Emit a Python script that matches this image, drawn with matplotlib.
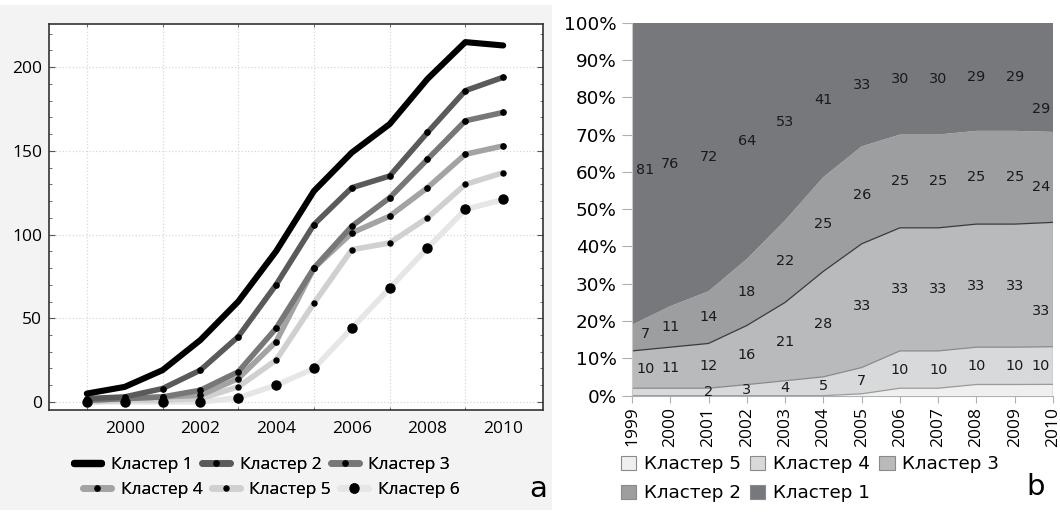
import matplotlib
matplotlib.use("Agg")
import matplotlib.pyplot as plt
from matplotlib import font_manager
from matplotlib.lines import Line2D
from matplotlib.patches import Rectangle, Patch
import numpy as np

# ---------------- data ----------------
years = [1999, 2000, 2001, 2002, 2003, 2004, 2005, 2006, 2007, 2008, 2009, 2010]

# panel a: cluster sizes
c1 = [5, 9, 19, 37, 60, 90, 126, 149, 166, 193, 215, 213]
c2 = [2, 3, 8, 19, 39, 70, 106, 128, 135, 161, 186, 194]
c3 = [1, 2, 3, 7, 18, 44, 80, 105, 122, 145, 168, 173]
c4 = [1, 2, 3, 4, 14, 36, 80, 101, 111, 128, 148, 153]
c5 = [0, 1, 1, 2, 9, 25, 59, 91, 95, 110, 130, 137]
c6 = [0, 0, 0, 0, 2.5, 10, 20, 44, 68, 92, 115, 121]
line_names = ["Кластер 1", "Кластер 2", "Кластер 3", "Кластер 4", "Кластер 5", "Кластер 6"]

# panel b: shares, %
s5 = [0, 0, 0, 0, 0, 0, 0.5, 2, 2, 3, 3, 3]
s4 = [2, 2, 2, 3, 4, 5, 7, 10, 10, 10, 10, 10]
s3 = [10, 11, 12, 16, 21, 28, 33, 33, 33, 33, 33, 33]
s2 = [7, 11, 14, 18, 22, 25, 26, 25, 25, 25, 25, 24]
s1 = [81, 76, 72, 64, 53, 41, 33, 30, 30, 29, 29, 29]
area_names = ["Кластер 5", "Кластер 4", "Кластер 3", "Кластер 2", "Кластер 1"]

# ---------------- fonts ----------------
NF = dict(family=["Open Sans", "DejaVu Sans"])
WF = dict(family=["DejaVu Sans"])

fig = plt.figure(figsize=(10.6, 5.13), dpi=100)
fig.patch.set_facecolor("white")
fig.add_artist(Rectangle((0, 0.006), 0.521, 0.984, transform=fig.transFigure,
                         facecolor="#f3f3f3", edgecolor="none", zorder=-10))

# ---------------- panel a ----------------
ax = fig.add_axes([0.0462, 0.2008, 0.466, 0.752])
ax.set_facecolor("white")
series = [c1, c2, c3, c4, c5, c6]
colors = ["#000000", "#5a5a5a", "#777777", "#a3a3a3", "#d0d0d0", "#e6e6e6"]
lws = [4.4, 4.0, 4.0, 4.0, 4.0, 4.0]
msz = [0, 3.8, 3.8, 3.8, 3.6, 6.5]
for i in range(5, -1, -1):
    ax.plot(years, series[i], color=colors[i], lw=lws[i], solid_capstyle="round",
            zorder=2 + (5 - i))
    if msz[i] > 0:
        ax.plot(years, series[i], ls="none", marker="o", ms=msz[i], color="black",
                zorder=10)
handles = [Line2D([0], [0], color=colors[i], lw=lws[i] + 0.8,
                  solid_capstyle="round",
                  marker="o" if msz[i] else None, ms=msz[i],
                  markerfacecolor="black", markeredgecolor="black") for i in range(6)]
ax.set_xlim(1998, 2011.05)
ax.set_ylim(-4.8, 225.7)
ax.set_xticks(years, minor=True)
ax.set_xticks(years[1::2])
ax.set_yticks([0, 50, 100, 150, 200])
ax.set_yticks(np.arange(0, 230, 10), minor=True)
ax.grid(True, which="major", axis="y", color="#d8d8d8", ls=":", lw=0.9)
ax.grid(True, which="minor", axis="x", color="#d8d8d8", ls=":", lw=0.9)
ax.tick_params(which="both", direction="in", top=True, right=True, color="#555555")
ax.tick_params(which="major", length=4, pad=5)
ax.tick_params(which="minor", length=2.5)
ax.tick_params(axis="x", which="major", length=0, pad=8)
for lab in ax.get_xticklabels() + ax.get_yticklabels():
    lab.set_fontproperties(font_manager.FontProperties(**NF, size=12.5))
for sp in ax.spines.values():
    sp.set_color("#333333")
    sp.set_linewidth(1.2)

legprop = font_manager.FontProperties(**NF, size=12.5)
for row, (cx, cy) in enumerate([(0.2470, 0.0936), (0.2560, 0.0450)]):
    idx = range(row * 3, row * 3 + 3)
    lg = fig.legend([handles[i] for i in idx], [line_names[i] for i in idx],
                    loc="center", bbox_to_anchor=(cx, cy), ncol=3, frameon=False,
                    handlelength=1.6, handletextpad=0.55, columnspacing=0.55,
                    borderpad=0, prop=legprop)
    fig.add_artist(lg)
fig.text(0.508, 0.047, "a", fontsize=21, **WF, ha="center", va="center")

# ---------------- panel b ----------------
bx = fig.add_axes([0.5962, 0.2287, 0.3972, 0.7271])
shares = np.array([s5, s4, s3, s2, s1], dtype=float)
tot = shares.sum(axis=0)
pct = shares / tot * 100
fills = ["#efefef", "#d8d9da", "#b8babb", "#9c9ea0", "#76787b"]
bx.stackplot(years, pct, colors=fills, edgecolor="none", linewidth=0)
cum = np.cumsum(pct, axis=0)
edge_cols = ["#9a9a9a", "#8a8a8a", "#3a3a3a", None, None]
for k in range(5):
    if edge_cols[k]:
        bx.plot(years, cum[k], color=edge_cols[k], lw=0.9)
bx.plot([years[-1], years[-1]], [0, cum[-2][-1]], color="#8a8a8a", lw=0.9)
bx.set_xlim(years[0], years[-1])
bx.set_ylim(0, 100)
bx.set_yticks(np.arange(0, 101, 10))
bx.set_yticklabels([f"{v}%" for v in range(0, 101, 10)])
bx.set_xticks(years)
bx.set_xticklabels([str(y) for y in years], rotation=90)
bx.tick_params(axis="y", length=7, color="#b0b0b0", pad=4)
bx.tick_params(axis="x", length=5, color="#b0b0b0", pad=3)
for lab in bx.get_yticklabels():
    lab.set_fontproperties(font_manager.FontProperties(**WF, size=13.2))
for lab in bx.get_xticklabels():
    lab.set_fontproperties(font_manager.FontProperties(**NF, size=12.5))
for side in ["top", "right"]:
    bx.spines[side].set_visible(False)
bx.spines["left"].set_color("#c8c8c8")
bx.spines["bottom"].set_color("#b0b0b0")

# data labels
hidden = {(1, 0), (1, 1)}
label_x = list(years)
label_x[0] = years[0] + 0.35
label_x[-1] = years[-1] - 0.32
end_nudge = {4: -8.5, 3: -2.5, 2: -7.0, 1: 0.0}
yrs = np.array(years, dtype=float)
for k in range(1, 5):
    lower = cum[k - 1]
    for j in range(len(years)):
        if (k, j) in hidden:
            continue
        xj = label_x[j]
        lo = np.interp(xj, yrs, lower)
        hi = np.interp(xj, yrs, cum[k])
        yj = (lo + hi) / 2
        if j == len(years) - 1:
            yj += end_nudge[k]
        v = shares[k][j]
        bx.text(xj, yj, f"{v:g}", ha="center", va="center", fontsize=10.4,
                color="#1a1a1a", **WF)

ph = [Patch(facecolor=fills[k], edgecolor="#8a8a8a", linewidth=0.8) for k in range(5)]
order = [0, 3, 1, 4, 2]
fig.legend([ph[k] for k in order], [area_names[k] for k in order],
           loc="upper left", bbox_to_anchor=(0.577, 0.13),
           ncol=3, frameon=False, handlelength=0.85, handleheight=0.85,
           handletextpad=0.4, columnspacing=0.5, labelspacing=0.6, borderpad=0,
           prop=font_manager.FontProperties(**WF, size=13.2))
fig.text(0.977, 0.05, "b", fontsize=21, **WF, ha="center", va="center")

fig.savefig("out.png", dpi=100, facecolor="white")
